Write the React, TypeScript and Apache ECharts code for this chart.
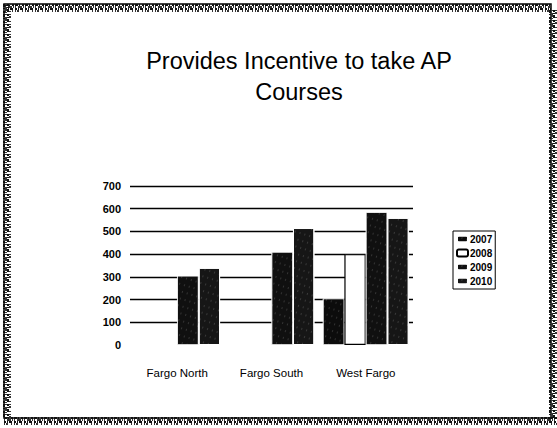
import React, { useEffect, useRef } from 'react';
import * as echarts from 'echarts';

const titleText = 'Provides Incentive to take AP\nCourses';
const categories = ['Fargo North', 'Fargo South', 'West Fargo'];
const seriesNames = ['2007', '2008', '2009', '2010'];
const values2007 = [null, null, 205];
const values2008 = [null, null, 400];
const values2009 = [305, 410, 585];
const values2010 = [340, 515, 560];
const yMin = 0;
const yMax = 700;
const yInterval = 100;

const FONT = 'Arial, "Liberation Sans", Helvetica, sans-serif';

function noiseLines(x1: number, y1: number, x2: number, y2: number, horizontal: boolean, count: number) {
  const dashes = [
    [3, 1, 1, 2, 2, 1],
    [1, 2, 4, 1, 1, 1],
    [2, 1, 1, 1, 3, 2],
    [1, 1, 2, 3, 1, 2],
  ];
  const out: any[] = [];
  for (let i = 0; i < count; i++) {
    const off = i * 2 + 1;
    out.push({
      type: 'line',
      silent: true,
      shape: horizontal
        ? { x1, y1: y1 + off, x2, y2: y1 + off }
        : { x1: x1 + off, y1, x2: x1 + off, y2 },
      style: { stroke: i % 2 ? '#333' : '#111', lineWidth: 2, lineDash: dashes[i % dashes.length] },
    });
  }
  return out;
}

export default function App() {
  const ref = useRef<HTMLDivElement>(null);
  useEffect(() => {
    if (!ref.current) return;
    const chart = echarts.init(ref.current, undefined, { renderer: 'svg' });
    const darkDecal = {
      symbol: 'rect',
      symbolSize: 0.6,
      color: 'rgba(255,255,255,0.5)',
      dashArrayX: [1, 4],
      dashArrayY: [2, 5],
      rotation: 0.3,
    };
    chart.setOption({
      animation: false,
      backgroundColor: '#fff',
      title: {
        text: titleText,
        left: 294,
        top: 40,
        textAlign: 'center',
        textStyle: { fontFamily: FONT, fontSize: 23.5, fontWeight: 'normal', color: '#000', lineHeight: 31 },
      },
      legend: {
        orient: 'vertical',
        left: 453,
        top: 231,
        data: seriesNames,
        itemWidth: 11,
        itemHeight: 7,
        itemGap: 4,
        padding: [3, 3, 3, 3],
        borderColor: '#000',
        borderWidth: 1,
        textStyle: { fontFamily: FONT, fontSize: 10, fontWeight: 'bold', color: '#000', padding: [0, 0, 0, -3] },
      },
      grid: { left: 130, right: 144, top: 186, bottom: 83, containLabel: false },
      xAxis: {
        type: 'category',
        data: categories,
        axisLine: { show: false },
        axisTick: { show: false },
        axisLabel: { fontFamily: FONT, fontSize: 11.5, color: '#000', margin: 22 },
      },
      yAxis: {
        type: 'value',
        min: yMin,
        max: yMax,
        interval: yInterval,
        axisLine: { show: false },
        axisTick: { show: false },
        axisLabel: { fontFamily: FONT, fontSize: 11, fontWeight: 'bold', color: '#000', margin: 9 },
        splitLine: {
          lineStyle: {
            color: ['rgba(0,0,0,0)', '#000', '#000', '#000', '#000', '#000', '#000', '#000'],
            width: 1.3,
          },
        },
      },
      series: [
        {
          name: seriesNames[0],
          type: 'bar',
          data: values2007,
          barGap: '0%',
          barCategoryGap: '9%',
          itemStyle: { color: '#0c0c0c', borderColor: '#fff', borderWidth: 0.6, decal: darkDecal },
        },
        {
          name: seriesNames[1],
          type: 'bar',
          data: values2008,
          itemStyle: { color: '#ffffff', borderColor: '#000', borderWidth: 1.2 },
        },
        {
          name: seriesNames[2],
          type: 'bar',
          data: values2009,
          itemStyle: { color: '#101010', borderColor: '#fff', borderWidth: 0.6, decal: darkDecal },
        },
        {
          name: seriesNames[3],
          type: 'bar',
          data: values2010,
          itemStyle: { color: '#161616', borderColor: '#fff', borderWidth: 1, decal: darkDecal },
        },
      ],
      graphic: [
        {
          type: 'rect',
          silent: true,
          shape: { x: 4, y: 4, width: 547, height: 414 },
          style: { fill: 'none', stroke: '#000', lineWidth: 1.5 },
        },
        ...noiseLines(5, 4, 551, 4, true, 4),
        ...noiseLines(3, 4, 3, 418, false, 4),
        ...noiseLines(549, 10, 549, 420, false, 4),
        ...noiseLines(4, 417, 557, 417, true, 4),
      ],
    });
    return () => chart.dispose();
  }, []);
  return <div ref={ref} style={{ position: 'fixed', left: 0, top: 0, width: 557, height: 428 }} />;
}
